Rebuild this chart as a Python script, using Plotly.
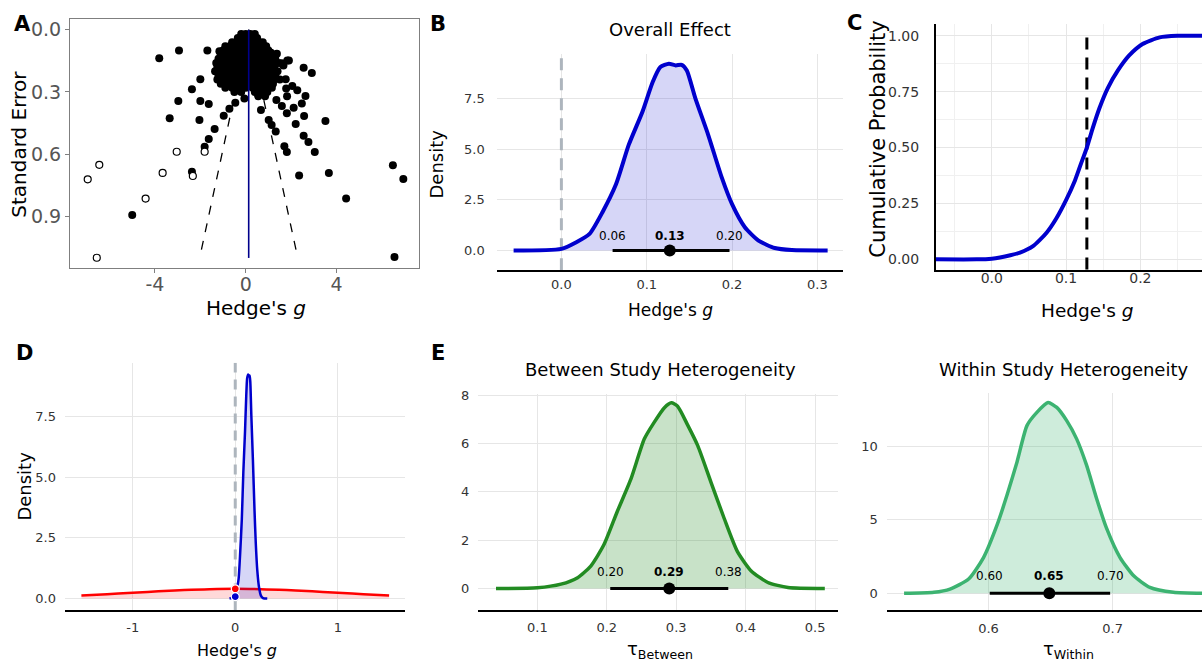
import plotly.graph_objects as go

W, H = 1202, 663
FONT = "DejaVu Sans"

def px(x):
    return x / W

def py(y):
    return 1 - y / H

# ---------------- Panel A: funnel plot ----------------
observed_g = [-3.81, -2.94, -1.69, -1.16, -2.37, -2.0, -2.97, -3.35, -2.0, -1.63, -2.04, -1.37,
              -0.97, -1.63, -1.81, -2.37, -5.0, -0.72, -0.46, -0.06,
              2.55, 2.91, 1.83, 1.66, 1.76, 1.78, 2.05, 2.27, 2.63, 2.47, 2.11, 1.81, 1.59, 1.35,
              2.57, 2.2, 3.51, 0.67, 1.01, 1.14, 1.32, 2.55, 2.76, 3.04, 1.70, 1.81, 2.35, 3.66,
              4.42, 6.48, 6.94, 6.55, 1.9, 1.59, 1.37, 1.11, 0.78, 1.82]
observed_se = [0.137, 0.10, 0.10, 0.104, 0.287, 0.239, 0.344, 0.427, 0.344, 0.358, 0.435, 0.478,
               0.414, 0.526, 0.564, 0.685, 0.893, 0.381, 0.352, 0.331,
               0.183, 0.209, 0.148, 0.172, 0.239, 0.283, 0.271, 0.291, 0.319, 0.355, 0.376, 0.403, 0.368, 0.339,
               0.416, 0.454, 0.44, 0.387, 0.435, 0.459, 0.49, 0.511, 0.541, 0.589, 0.562, 0.589, 0.702, 0.69,
               0.814, 0.653, 0.72, 1.096, 0.148, 0.161, 0.116, 0.111, 0.148, 0.32]

# dense central cluster, read row by row (standard error level -> effect sizes)
cluster_se = [0.02, 0.04, 0.06, 0.08, 0.10, 0.12, 0.14, 0.16, 0.18, 0.20, 0.22, 0.24, 0.26, 0.28, 0.30, 0.32]
cluster_g_rows = [
    [-0.2, 0.0, 0.2, 0.4],
    [-0.35, -0.1, 0.1, 0.3, 0.5],
    [-0.6, -0.4, -0.2, 0.0, 0.2, 0.4, 0.6, 0.75],
    [-0.9, -0.7, -0.5, -0.3, -0.1, 0.1, 0.3, 0.5, 0.7, 0.9],
    [-1.0, -0.8, -0.6, -0.4, -0.2, 0.0, 0.2, 0.4, 0.6, 0.8, 1.0],
    [-1.1, -0.9, -0.7, -0.5, -0.3, -0.1, 0.1, 0.3, 0.5, 0.7, 0.9, 1.2],
    [-1.2, -1.0, -0.75, -0.5, -0.25, 0.0, 0.25, 0.5, 0.75, 1.0, 1.3],
    [-1.3, -1.05, -0.8, -0.55, -0.3, -0.05, 0.2, 0.45, 0.7, 0.95, 1.2, 1.45],
    [-1.25, -1.0, -0.75, -0.5, -0.25, 0.0, 0.25, 0.5, 0.75, 1.0, 1.25],
    [-1.35, -1.1, -0.85, -0.6, -0.35, -0.1, 0.15, 0.4, 0.65, 0.9, 1.15, 1.4],
    [-1.2, -0.95, -0.7, -0.45, -0.2, 0.05, 0.3, 0.55, 0.8, 1.05, 1.3],
    [-1.25, -1.0, -0.75, -0.5, -0.25, 0.0, 0.25, 0.5, 0.75, 1.0, 1.25, 1.5],
    [-1.1, -0.8, -0.55, -0.3, -0.05, 0.2, 0.45, 0.7, 0.95, 1.2],
    [-0.9, -0.6, -0.3, 0.0, 0.3, 0.6, 0.9, 1.15],
    [-0.5, -0.2, 0.4, 0.7, 0.95],
    [0.55, 0.85],
]

imputed_g = [-6.96, -6.45, -6.56, -3.66, -3.04, -4.41, -1.81, -2.33]
imputed_se = [0.721, 0.651, 1.099, 0.69, 0.588, 0.814, 0.588, 0.705]

pooled_effect = 0.13
funnel_se = [0.0, 1.1]
funnel_left_g = [0.13, -2.03]
funnel_right_g = [0.13, 2.29]

# ---------------- Panel B: posterior density of overall effect ----------------
post_x = [-0.056, 0.0, 0.0175, 0.033, 0.048, 0.064, 0.079, 0.095, 0.107, 0.116, 0.126, 0.134,
          0.141, 0.147, 0.157, 0.172, 0.188, 0.200, 0.215, 0.231, 0.25, 0.27, 0.312]
post_y = [0.0, 0.08, 0.41, 0.82, 1.88, 3.27, 5.23, 6.86, 8.33, 9.07, 9.23, 9.15,
          9.18, 8.9, 7.52, 5.72, 3.6, 2.29, 1.15, 0.49, 0.12, 0.02, 0.0]
overall_ci = [0.06, 0.127, 0.197]
overall_labels = ["0.06", "<b>0.13</b>", "0.20"]

# ---------------- Panel C: cumulative probability ----------------
cdf_x = [-0.0755, -0.02, 0.0, 0.011, 0.025, 0.038, 0.0555, 0.0735, 0.087, 0.1, 0.112, 0.12,
         0.128, 0.136, 0.145, 0.156, 0.17, 0.185, 0.203, 0.226, 0.25, 0.283]
cdf_y = [0.0, 0.0, 0.003, 0.008, 0.018, 0.03, 0.059, 0.118, 0.184, 0.265, 0.353, 0.427,
         0.5, 0.588, 0.677, 0.765, 0.846, 0.912, 0.963, 0.993, 1.0, 1.0]
median_effect = 0.128

# ---------------- Panel D: prior vs posterior ----------------
prior_x = [-1.5, -1.25, -1.0, -0.75, -0.5, -0.25, 0.0, 0.25, 0.5, 0.75, 1.0, 1.25, 1.5]
prior_y = [0.13, 0.18, 0.24, 0.30, 0.35, 0.385, 0.40, 0.385, 0.35, 0.30, 0.24, 0.18, 0.13]
prior_at_zero = 0.40
posterior_at_zero = 0.08

# ---------------- Panel E: heterogeneity ----------------
between_x = [0.0405, 0.1, 0.134, 0.158, 0.177, 0.196, 0.215, 0.235, 0.254, 0.268, 0.283, 0.293,
             0.302, 0.316, 0.331, 0.350, 0.369, 0.388, 0.408, 0.432, 0.461, 0.514]
between_y = [0.0, 0.03, 0.18, 0.45, 0.93, 1.82, 3.18, 4.55, 6.19, 6.87, 7.49, 7.69,
             7.55, 6.8, 5.92, 4.41, 2.91, 1.54, 0.73, 0.25, 0.04, 0.0]
between_ci = [0.205, 0.29, 0.375]
between_labels = ["0.20", "<b>0.29</b>", "0.38"]

within_x = [0.532, 0.556, 0.569, 0.584, 0.596, 0.607, 0.615, 0.623, 0.631, 0.639, 0.648, 0.655,
            0.663, 0.671, 0.679, 0.687, 0.695, 0.706, 0.717, 0.730, 0.749, 0.772]
within_y = [0.0, 0.07, 0.29, 0.97, 2.43, 4.67, 6.7, 8.94, 11.41, 12.31, 12.98, 12.65,
            11.75, 10.51, 8.72, 6.47, 4.45, 2.43, 1.19, 0.4, 0.07, 0.0]
within_ci = [0.601, 0.649, 0.698]
within_labels = ["0.60", "<b>0.65</b>", "0.70"]

# ---------------- colours ----------------
BLUE = "#0000CD"
BLUE_FILL = "rgba(0,0,205,0.16)"
RED = "#FF0000"
RED_FILL = "rgba(255,0,0,0.15)"
GREEN1 = "#228B22"
GREEN1_FILL = "rgba(34,139,34,0.25)"
GREEN2 = "#3CB371"
GREEN2_FILL = "rgba(60,179,113,0.25)"
GRID = "#e6e6e6"
TICK = "#333333"
ZERO_DASH = "#adb5bd"

fig = go.Figure()

# ---- A
cl_g, cl_se = [], []
for s, row in zip(cluster_se, cluster_g_rows):
    for g in row:
        cl_g.append(g)
        cl_se.append(s)

fig.add_trace(go.Scatter(x=funnel_left_g, y=funnel_se, mode="lines",
                         line=dict(color="black", width=1.3, dash="dash"), xaxis="x", yaxis="y"))
fig.add_trace(go.Scatter(x=funnel_right_g, y=funnel_se, mode="lines",
                         line=dict(color="black", width=1.3, dash="dash"), xaxis="x", yaxis="y"))
fig.add_trace(go.Scatter(x=observed_g + cl_g, y=observed_se + cl_se, mode="markers",
                         marker=dict(color="black", size=8, line=dict(width=0)), xaxis="x", yaxis="y"))
fig.add_trace(go.Scatter(x=imputed_g, y=imputed_se, mode="markers",
                         marker=dict(color="white", size=7, line=dict(color="black", width=1.2)),
                         xaxis="x", yaxis="y"))
fig.add_trace(go.Scatter(x=[pooled_effect, pooled_effect], y=funnel_se, mode="lines",
                         line=dict(color="#00008B", width=1.6), xaxis="x", yaxis="y"))

# ---- B
fig.add_trace(go.Scatter(x=[0, 0], y=[-0.98, 9.72], mode="lines",
                         line=dict(color=ZERO_DASH, width=3, dash="12px,8px"), xaxis="x2", yaxis="y2"))
fig.add_trace(go.Scatter(x=post_x, y=post_y, mode="lines", fill="tozeroy", fillcolor=BLUE_FILL,
                         line=dict(color=BLUE, width=4, shape="spline", smoothing=0.6),
                         xaxis="x2", yaxis="y2"))
fig.add_trace(go.Scatter(x=[overall_ci[0], overall_ci[2]], y=[0, 0], mode="lines",
                         line=dict(color="black", width=3), xaxis="x2", yaxis="y2"))
fig.add_trace(go.Scatter(x=[overall_ci[1]], y=[0], mode="markers",
                         marker=dict(color="black", size=12), xaxis="x2", yaxis="y2"))

# ---- C
fig.add_trace(go.Scatter(x=[median_effect, median_effect], y=[-0.045, 1.0], mode="lines",
                         line=dict(color="black", width=3, dash="12px,8px"), xaxis="x3", yaxis="y3"))
fig.add_trace(go.Scatter(x=cdf_x, y=cdf_y, mode="lines",
                         line=dict(color=BLUE, width=4, shape="spline", smoothing=0.6),
                         xaxis="x3", yaxis="y3"))

# ---- D
fig.add_trace(go.Scatter(x=[0, 0], y=[-0.49, 9.71], mode="lines",
                         line=dict(color=ZERO_DASH, width=3, dash="10px,7px"), xaxis="x4", yaxis="y4"))
fig.add_trace(go.Scatter(x=prior_x, y=prior_y, mode="lines", fill="tozeroy", fillcolor=RED_FILL,
                         line=dict(color=RED, width=2.5, shape="spline"), xaxis="x4", yaxis="y4"))
fig.add_trace(go.Scatter(x=post_x, y=post_y, mode="lines", fill="tozeroy", fillcolor=BLUE_FILL,
                         line=dict(color=BLUE, width=2.5, shape="spline", smoothing=0.6),
                         xaxis="x4", yaxis="y4"))
fig.add_trace(go.Scatter(x=[0, 0], y=[prior_at_zero, posterior_at_zero], mode="markers",
                         marker=dict(color=[RED, BLUE], size=8, line=dict(color="white", width=1.2)),
                         xaxis="x4", yaxis="y4"))

# ---- E left
fig.add_trace(go.Scatter(x=between_x, y=between_y, mode="lines", fill="tozeroy", fillcolor=GREEN1_FILL,
                         line=dict(color=GREEN1, width=3.5, shape="spline", smoothing=0.6),
                         xaxis="x5", yaxis="y5"))
fig.add_trace(go.Scatter(x=[between_ci[0], between_ci[2]], y=[0, 0], mode="lines",
                         line=dict(color="black", width=3), xaxis="x5", yaxis="y5"))
fig.add_trace(go.Scatter(x=[between_ci[1]], y=[0], mode="markers",
                         marker=dict(color="black", size=12), xaxis="x5", yaxis="y5"))

# ---- E right
fig.add_trace(go.Scatter(x=within_x, y=within_y, mode="lines", fill="tozeroy", fillcolor=GREEN2_FILL,
                         line=dict(color=GREEN2, width=3.5, shape="spline", smoothing=0.6),
                         xaxis="x6", yaxis="y6"))
fig.add_trace(go.Scatter(x=[within_ci[0], within_ci[2]], y=[0, 0], mode="lines",
                         line=dict(color="black", width=3), xaxis="x6", yaxis="y6"))
fig.add_trace(go.Scatter(x=[within_ci[1]], y=[0], mode="markers",
                         marker=dict(color="black", size=12), xaxis="x6", yaxis="y6"))


def minimal_x(dom, rng, tickvals, ticktext=None, fmt=None, standoff=0, size=13):
    d = dict(domain=[px(dom[0]), px(dom[1])], range=rng, tickvals=tickvals, showgrid=True,
             gridcolor=GRID, gridwidth=1.3, zeroline=False, showline=True, linecolor="black",
             linewidth=1.5, ticks="", tickfont=dict(family=FONT, size=size, color=TICK),
             ticklabelstandoff=standoff, fixedrange=True)
    if ticktext is not None:
        d["ticktext"] = ticktext
    if fmt:
        d["tickformat"] = fmt
    return d


def minimal_y(dom, rng, tickvals, ticktext=None, fmt=None, standoff=8, size=13):
    d = dict(domain=[py(dom[1]), py(dom[0])], range=rng, tickvals=tickvals, showgrid=True,
             gridcolor=GRID, gridwidth=1.3, zeroline=False, showline=False, ticks="",
             tickfont=dict(family=FONT, size=size, color=TICK), ticklabelstandoff=standoff,
             fixedrange=True)
    if ticktext is not None:
        d["ticktext"] = ticktext
    if fmt:
        d["tickformat"] = fmt
    return d


layout = dict(
    width=W, height=H, margin=dict(l=0, r=0, t=0, b=0), showlegend=False,
    paper_bgcolor="white", plot_bgcolor="white", font=dict(family=FONT, color="black"),
)

# A axes
layout["xaxis"] = dict(domain=[px(70), px(419)], range=[-7.74, 7.63], tickvals=[-4, 0, 4],
                       ticktext=["-4", "0", "4"], showgrid=False, zeroline=False, showline=True,
                       mirror=True, linecolor="#7f7f7f", linewidth=1.2, ticks="outside", ticklen=4,
                       tickcolor="#7f7f7f", tickfont=dict(family=FONT, size=19, color="#555555"),
                       ticklabelstandoff=-5, anchor="y", fixedrange=True)
layout["yaxis"] = dict(domain=[py(264.3), py(13.3)], range=[1.148, -0.051], tickvals=[0, 0.3, 0.6, 0.9],
                       tickformat=".1f", showgrid=False, zeroline=False, showline=True, mirror=True,
                       linecolor="#7f7f7f", linewidth=1.2, ticks="outside", ticklen=4,
                       tickcolor="#7f7f7f", tickfont=dict(family=FONT, size=19, color="#555555"),
                       ticklabelstandoff=0, anchor="x", fixedrange=True)

layout["xaxis2"] = minimal_x((496.7, 843), [-0.0758, 0.33], [0, 0.1, 0.2, 0.3], fmt=".1f", standoff=1)
layout["xaxis2"]["anchor"] = "y2"
layout["yaxis2"] = minimal_y((48.3, 266.7), [-0.98, 9.72], [0, 2.5, 5, 7.5], fmt=".1f", standoff=11)
layout["yaxis2"]["anchor"] = "x2"

layout["xaxis3"] = minimal_x((935.7, 1202), [-0.0755, 0.283], [0, 0.1, 0.2], fmt=".1f", standoff=-6, size=14)
layout["xaxis3"].update(anchor="y3", minor=dict(tickvals=[-0.05, 0.05, 0.15, 0.25], showgrid=True,
                                                 gridcolor="#f0f0f0", gridwidth=1))
layout["yaxis3"] = minimal_y((18.3, 266.7), [-0.049, 1.052], [0, 0.25, 0.5, 0.75, 1.0], fmt=".2f",
                             standoff=12, size=14)
layout["yaxis3"].update(anchor="x3", showline=True, linecolor="black", linewidth=1.5,
                        minor=dict(tickvals=[0.125, 0.375, 0.625, 0.875], showgrid=True,
                                   gridcolor="#f0f0f0", gridwidth=1))

layout["xaxis4"] = minimal_x((65, 405), [-1.66, 1.655], [-1, 0, 1], ticktext=["-1", "0", "1"], standoff=4)
layout["xaxis4"]["anchor"] = "y4"
layout["yaxis4"] = minimal_y((360, 610), [-0.49, 9.71], [0, 2.5, 5, 7.5], fmt=".1f", standoff=8)
layout["yaxis4"]["anchor"] = "x4"

layout["xaxis5"] = minimal_x((478.3, 838), [0.015, 0.533], [0.1, 0.2, 0.3, 0.4, 0.5], fmt=".1f", standoff=4)
layout["xaxis5"]["anchor"] = "y5"
layout["yaxis5"] = minimal_y((391.7, 610), [-0.91, 8.05], [0, 2, 4, 6, 8], standoff=8)
layout["yaxis5"]["anchor"] = "x5"

layout["xaxis6"] = minimal_x((886.7, 1202), [0.518, 0.772], [0.6, 0.7], fmt=".1f", standoff=5)
layout["xaxis6"]["anchor"] = "y6"
layout["yaxis6"] = minimal_y((391, 610), [-1.17, 13.6], [0, 5, 10], standoff=8)
layout["yaxis6"]["anchor"] = "x6"

fig.update_layout(**layout)


def ann(x, y, text, size, rot=0, bold=False, color="black", xanchor="center", yanchor="middle"):
    if bold:
        text = "<b>" + text + "</b>"
    fig.add_annotation(x=px(x), y=py(y), xref="paper", yref="paper", text=text, showarrow=False,
                       textangle=rot, xanchor=xanchor, yanchor=yanchor,
                       font=dict(family=FONT, size=size, color=color))


# panel letters
ann(22, 18, "A", 21, bold=True)
ann(438, 18, "B", 21, bold=True)
ann(854, 17, "C", 21, bold=True)
ann(24, 350, "D", 21, bold=True)
ann(438, 350, "E", 21, bold=True)

# panel titles
ann(670, 24, "Overall Effect", 18)
ann(660, 367, "Between Study Heterogeneity", 18)
ann(1063, 367, "Within Study Heterogeneity", 18)

# axis titles
ann(19, 140, "Standard Error", 20, rot=-90)
ann(256, 305, "Hedge's <i>g</i>", 20)
ann(437, 160, "Density", 18, rot=-90)
ann(671, 307, "Hedge's <i>g</i>", 17)
ann(878, 134, "Cumulative Probability", 21, rot=-90)
ann(1087, 307, "Hedge's <i>g</i>", 18.5)
ann(25, 485, "Density", 18, rot=-90)
ann(237, 650, "Hedge's <i>g</i>", 16)
ann(660, 650, "τ<sub>Between</sub>", 18)
ann(1068, 650, "τ<sub>Within</sub>", 18)

# CI labels
for xs, labs, ax, ay, shift in [(overall_ci, overall_labels, "x2", "y2", 14),
                                 (between_ci, between_labels, "x5", "y5", 17),
                                 (within_ci, within_labels, "x6", "y6", 17)]:
    for xv, lab in zip(xs, labs):
        fig.add_annotation(x=xv, y=0, xref=ax, yref=ay, text=lab, showarrow=False, yshift=shift,
                           font=dict(family=FONT, size=12, color="black"))

fig.write_html("out.html", config={"displayModeBar": False},
               post_script="document.body.style.margin='0';")
